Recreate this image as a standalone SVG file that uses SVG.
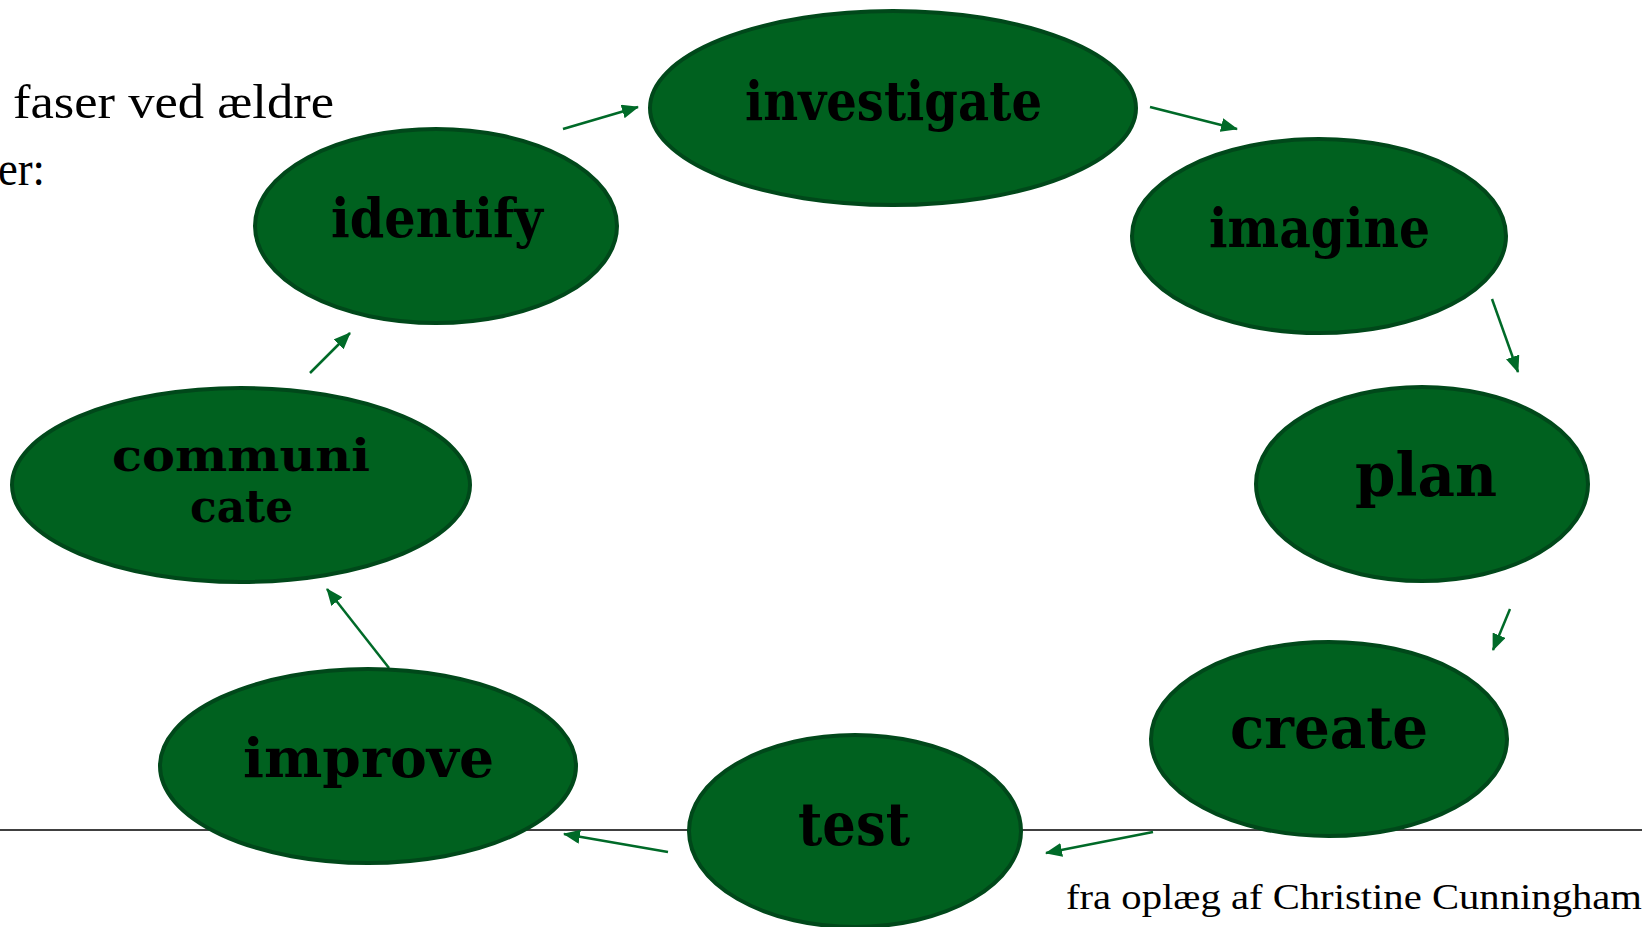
<svg xmlns="http://www.w3.org/2000/svg" width="1647" height="927" viewBox="0 0 1647 927">
<style>
.node ellipse{fill:#00611f;stroke:#00481a;stroke-width:4}
.lbl{font-family:"DejaVu Serif","Liberation Serif",serif;font-weight:bold;fill:#000}
.txt{font-family:"Liberation Serif","DejaVu Serif",serif;fill:#000}
.conn line{stroke:#006a28;stroke-width:2.5;fill:none}
</style>
<defs>
<marker id="ah" markerUnits="userSpaceOnUse" markerWidth="18" markerHeight="14" refX="16" refY="7" orient="auto">
<path d="M0,0 L17,7 L0,14 Z" fill="#006a28"/>
</marker>
</defs>
<rect width="1647" height="927" fill="#fff"/>
<line x1="0" y1="830" x2="1642" y2="830" stroke="#000" stroke-width="1.5"/>
<text class="txt" x="13" y="118" font-size="48" textLength="321" lengthAdjust="spacingAndGlyphs">faser ved ældre</text>
<text class="txt" x="-2" y="185" font-size="48" textLength="47" lengthAdjust="spacingAndGlyphs">er:</text>
<text class="txt" x="1066" y="909" font-size="36" textLength="576" lengthAdjust="spacingAndGlyphs">fra oplæg af Christine Cunningham</text>
<g class="conn">
<line x1="563" y1="129" x2="638" y2="107" marker-end="url(#ah)"/>
<line x1="1150" y1="107" x2="1237" y2="129" marker-end="url(#ah)"/>
<line x1="1492" y1="299" x2="1518" y2="372" marker-end="url(#ah)"/>
<line x1="1510" y1="609" x2="1493" y2="650" marker-end="url(#ah)"/>
<line x1="1153" y1="832" x2="1046" y2="853" marker-end="url(#ah)"/>
<line x1="668" y1="852" x2="564" y2="834" marker-end="url(#ah)"/>
<line x1="389" y1="668" x2="327" y2="589" marker-end="url(#ah)"/>
<line x1="310" y1="373" x2="350" y2="333" marker-end="url(#ah)"/>
</g>
<g id="investigate" class="node"><ellipse cx="893" cy="108" rx="243" ry="97"/><text class="lbl" x="745" y="120" font-size="54" textLength="297" lengthAdjust="spacingAndGlyphs">investigate</text></g>
<g id="identify" class="node"><ellipse cx="436" cy="226" rx="181" ry="97"/><text class="lbl" x="331" y="237" font-size="54" textLength="212" lengthAdjust="spacingAndGlyphs">identify</text></g>
<g id="imagine" class="node"><ellipse cx="1319" cy="236" rx="187" ry="97"/><text class="lbl" x="1209" y="247" font-size="54" textLength="221" lengthAdjust="spacingAndGlyphs">imagine</text></g>
<g id="plan" class="node"><ellipse cx="1422" cy="484" rx="166" ry="97"/><text class="lbl" x="1355" y="496" font-size="60" textLength="142" lengthAdjust="spacingAndGlyphs">plan</text></g>
<g id="create" class="node"><ellipse cx="1329" cy="739" rx="178" ry="97"/><text class="lbl" x="1230" y="748" font-size="58" textLength="198" lengthAdjust="spacingAndGlyphs">create</text></g>
<g id="test" class="node"><ellipse cx="855" cy="831" rx="166" ry="96"/><text class="lbl" x="798" y="845" font-size="60" textLength="112" lengthAdjust="spacingAndGlyphs">test</text></g>
<g id="improve" class="node"><ellipse cx="368" cy="766" rx="208" ry="97"/><text class="lbl" x="243" y="777" font-size="54" textLength="251" lengthAdjust="spacingAndGlyphs">improve</text></g>
<g id="communicate" class="node"><ellipse cx="241" cy="485" rx="229" ry="97"/><text class="lbl" x="112" y="471" font-size="44" textLength="258" lengthAdjust="spacingAndGlyphs">communi</text><text class="lbl" x="190" y="522" font-size="44" textLength="103" lengthAdjust="spacingAndGlyphs">cate</text></g>
</svg>
